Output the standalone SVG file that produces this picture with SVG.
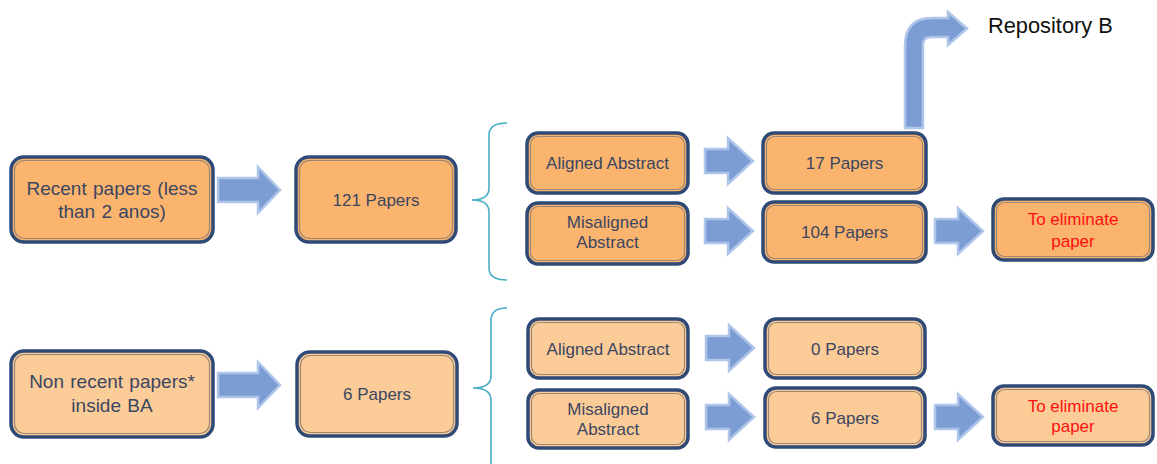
<svg xmlns="http://www.w3.org/2000/svg" width="1157" height="464" viewBox="0 0 1157 464">
  <style>
    .box { stroke: #2F4A77; stroke-width: 3.5; }
    .inner { fill: none; stroke: #9A8775; stroke-width: 1.2; }
    .hot { fill: #FAB46E; }
    .cool { fill: #FCCC98; }
    .lbl { font-family: "Liberation Sans", Arial, sans-serif; font-size: 17px; fill: #3B4661; text-anchor: middle; }
    .big { font-size: 19px; word-spacing: 1px; }
    .red { fill: #FF1010; }
    .arrow { fill: #7C9DD4; stroke: #AFC5E9; stroke-width: 2.5; stroke-linejoin: miter; }
    .brace { fill: none; stroke: #4BACC6; stroke-width: 1.6; }
  </style>
  <defs>
    <path id="bigArrow" d="M0,-12 H40 V-23 L62,0 L40,23 V12 H0 Z"/>
    <path id="smallArrow" d="M0,-12 H23 V-23 L48,0 L23,23 V12 H0 Z"/>
  </defs>
  <rect width="1157" height="464" fill="#FFFFFF"/>

  <!-- connectors: block arrows and braces -->
  <g id="connectors">
    <use href="#bigArrow" class="arrow" x="218" y="190"/>
    <use href="#bigArrow" class="arrow" x="218" y="385"/>
    <use href="#smallArrow" class="arrow" x="705" y="161"/>
    <use href="#smallArrow" class="arrow" x="705" y="231"/>
    <use href="#smallArrow" class="arrow" x="935" y="231"/>
    <use href="#smallArrow" class="arrow" x="706" y="348"/>
    <use href="#smallArrow" class="arrow" x="706" y="417"/>
    <use href="#smallArrow" class="arrow" x="935" y="417"/>
    <path class="arrow" d="M905,128 V46 Q905,18 932,18 H948 V12 L967,28.5 L948,45 V37 H931 Q923,37 923,45 V128 Z"/>
    <path class="brace" d="M507,123 Q489,123 489,135 V188 Q489,200 472,200 Q489,200 489,212 V268 Q489,280 507,280"/>
    <path class="brace" d="M507,308 Q491,308 491,320 V376 Q491,388 473,388 Q491,388 491,400 V470"/>
  </g>

  <!-- recent papers branch -->
  <g id="recent">
    <rect class="box hot" x="11" y="157" width="202" height="85" rx="13"/>
    <rect class="inner" x="14.5" y="160.5" width="195" height="78" rx="10"/>
    <text class="lbl big" x="112" y="195">Recent papers (less</text>
    <text class="lbl big" x="112" y="218">than 2 anos)</text>
  </g>
  <g id="papers121">
    <rect class="box hot" x="296" y="157" width="160" height="85" rx="13"/>
    <rect class="inner" x="299.5" y="160.5" width="153" height="78" rx="10"/>
    <text class="lbl" x="376" y="205.5">121 Papers</text>
  </g>
  <g id="aligned1">
    <rect class="box hot" x="527" y="133" width="161" height="60" rx="11"/>
    <rect class="inner" x="530.5" y="136.5" width="154" height="53" rx="8"/>
    <text class="lbl" x="607.5" y="169">Aligned Abstract</text>
  </g>
  <g id="misaligned1">
    <rect class="box hot" x="527" y="203" width="161" height="61" rx="11"/>
    <rect class="inner" x="530.5" y="206.5" width="154" height="54" rx="8"/>
    <text class="lbl" x="607.5" y="228">Misaligned</text>
    <text class="lbl" x="607.5" y="248">Abstract</text>
  </g>
  <g id="papers17">
    <rect class="box hot" x="763" y="133" width="163" height="60" rx="11"/>
    <rect class="inner" x="766.5" y="136.5" width="156" height="53" rx="8"/>
    <text class="lbl" x="844.5" y="169">17 Papers</text>
  </g>
  <g id="papers104">
    <rect class="box hot" x="763" y="202" width="163" height="60" rx="11"/>
    <rect class="inner" x="766.5" y="205.5" width="156" height="53" rx="8"/>
    <text class="lbl" x="844.5" y="238">104 Papers</text>
  </g>
  <g id="eliminate1">
    <rect class="box hot" x="993" y="199" width="160" height="61" rx="11"/>
    <rect class="inner" x="996.5" y="202.5" width="153" height="54" rx="8"/>
    <text class="lbl red" x="1073" y="225">To eliminate</text>
    <text class="lbl red" x="1073" y="247">paper</text>
  </g>
  <g id="repositoryB">
    <text x="988" y="33" font-family="Liberation Sans, Arial, sans-serif" font-size="21.8" fill="#111111">Repository B</text>
  </g>

  <!-- non recent papers branch -->
  <g id="nonrecent">
    <rect class="box cool" x="11" y="351" width="202" height="86" rx="13"/>
    <rect class="inner" x="14.5" y="354.5" width="195" height="79" rx="10"/>
    <text class="lbl big" x="112" y="388">Non recent papers*</text>
    <text class="lbl big" x="112" y="412">inside BA</text>
  </g>
  <g id="papers6a">
    <rect class="box cool" x="297" y="352" width="160" height="84" rx="13"/>
    <rect class="inner" x="300.5" y="355.5" width="153" height="77" rx="10"/>
    <text class="lbl" x="377" y="400">6 Papers</text>
  </g>
  <g id="aligned2">
    <rect class="box cool" x="528" y="319" width="160" height="59" rx="11"/>
    <rect class="inner" x="531.5" y="322.5" width="153" height="52" rx="8"/>
    <text class="lbl" x="608" y="355">Aligned Abstract</text>
  </g>
  <g id="misaligned2">
    <rect class="box cool" x="528" y="390" width="160" height="58" rx="11"/>
    <rect class="inner" x="531.5" y="393.5" width="153" height="51" rx="8"/>
    <text class="lbl" x="608" y="415">Misaligned</text>
    <text class="lbl" x="608" y="435">Abstract</text>
  </g>
  <g id="papers0">
    <rect class="box cool" x="765" y="319" width="160" height="59" rx="11"/>
    <rect class="inner" x="768.5" y="322.5" width="153" height="52" rx="8"/>
    <text class="lbl" x="845" y="355">0 Papers</text>
  </g>
  <g id="papers6b">
    <rect class="box cool" x="765" y="388" width="160" height="59" rx="11"/>
    <rect class="inner" x="768.5" y="391.5" width="153" height="52" rx="8"/>
    <text class="lbl" x="845" y="424">6 Papers</text>
  </g>
  <g id="eliminate2">
    <rect class="box cool" x="993" y="386" width="160" height="59" rx="11"/>
    <rect class="inner" x="996.5" y="389.5" width="153" height="52" rx="8"/>
    <text class="lbl red" x="1073" y="412">To eliminate</text>
    <text class="lbl red" x="1073" y="432">paper</text>
  </g>
</svg>
